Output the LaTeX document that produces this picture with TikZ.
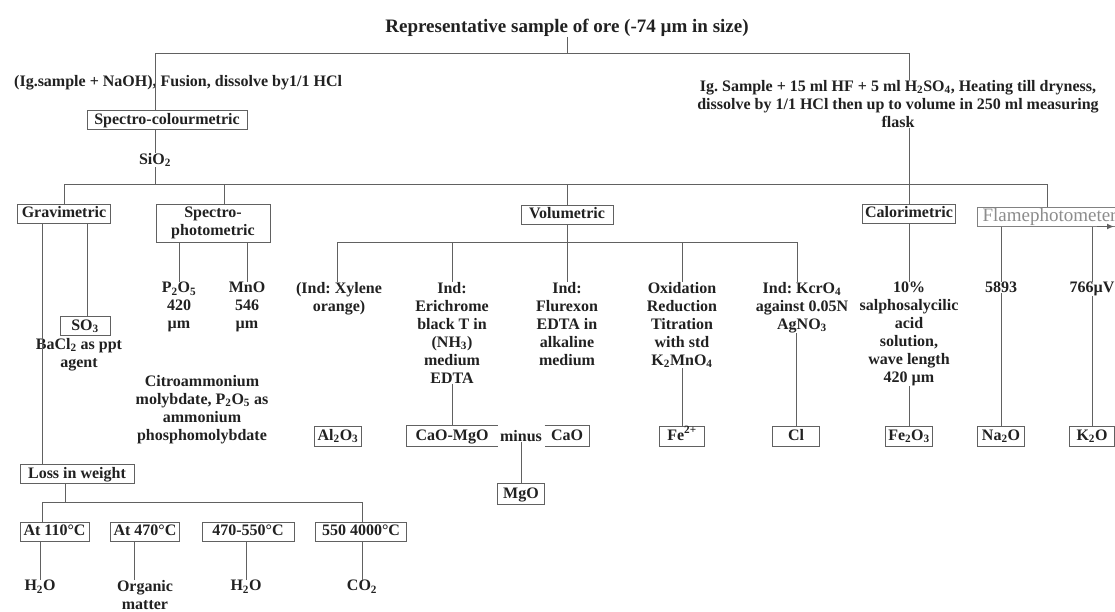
\documentclass[tikz,border=0pt]{standalone}
\usepackage{fontspec}
\setmainfont{Liberation Serif}
\usetikzlibrary{arrows.meta}
\definecolor{ink}{gray}{0.13}
\definecolor{linec}{gray}{0.38}
\frenchspacing
\tikzset{
  conn/.style={draw=linec,line width=1pt},
  txt/.style={font=\bfseries\fontsize{16}{18}\selectfont, text=ink, align=center, inner sep=0pt},
  bx/.style={txt, draw=linec, line width=1pt, inner xsep=3pt, inner ysep=0pt, minimum height=19pt, text height=11.5pt, text depth=3.5pt},
}
\begin{document}
\begin{tikzpicture}[x=1pt,y=-1pt]
\useasboundingbox (0,0) rectangle (1115,611);
\fill[white] (0,0) rectangle (1115,611);
\clip (0,0) rectangle (1115,611);

% ---------- top part
\node[txt, font=\bfseries\fontsize{19}{21}\selectfont] (title) at (567,28) {Representative sample of ore (-74 µm in size)};
\node[txt, anchor=west] (ltext) at (14,83) {(Ig.sample + NaOH), Fusion, dissolve by1/1 HCl};
\node[bx, minimum width=160pt] (scol) at (167,120) {Spectro-colourmetric};
\node[txt] (sio) at (155,160) {SiO\textsubscript{2}};
\node[txt, anchor=north] (rtext) at (898,80) {Ig. Sample + 15 ml HF + 5 ml H\textsubscript{2}SO\textsubscript{4}, Heating till dryness,\\dissolve by 1/1 HCl then up to volume in 250 ml measuring\\flask};

\coordinate (tl) at (155,53);
\coordinate (tr) at (909,53);
\coordinate (busL) at (64,184);
\coordinate (busR) at (1047,184);

% ---------- second row
\node[bx, minimum width=93pt] (grav) at (64,213.5) {Gravimetric};
\node[txt, draw=linec, line width=1pt, minimum width=114pt, minimum height=38pt] (sph) at (213,223) {Spectro-\\photometric};
\node[bx, minimum width=92pt] (vol) at (567,214.5) {Volumetric};
\node[bx, minimum width=92pt] (cal) at (909,213.5) {Calorimetric};
\node[draw=linec!80, line width=1pt, anchor=west, font=\fontsize{19}{20}\selectfont, text=black!45,
      text width=150pt, align=left, minimum height=19pt, inner xsep=5pt, inner ysep=0pt,
      text height=13pt, text depth=4pt] (flame) at (977,216.5) {Flamephotometer};
\coordinate (fa1) at (1097,226.5);
\coordinate (fa2) at (1114,226.5);

% ---------- gravimetric branch
\node[bx, minimum width=50pt] (so3) at (85,326) {SO\textsubscript{3}};
\node[txt, anchor=north] (bacl) at (79,338) {BaCl\textsubscript{2} as ppt\\agent};

% ---------- spectro-photometric branch
\node[txt, anchor=north] (p2o5) at (179,282) {P\textsubscript{2}O\textsubscript{5}\\420\\µm};
\node[txt, anchor=north] (mno) at (247,282) {MnO\\546\\µm};
\node[txt, anchor=north] (citro) at (202,375) {Citroammonium\\molybdate, P\textsubscript{2}O\textsubscript{5} as\\ammonium\\phosphomolybdate};

% ---------- volumetric branch
\coordinate (vbL) at (337,242);
\coordinate (vbR) at (797,242);
\node[txt, anchor=north] (xyl) at (339,282) {(Ind: Xylene\\orange)};
\node[txt, anchor=north] (eri) at (452,282) {Ind:\\Erichrome\\black T in\\(NH\textsubscript{3})\\medium\\EDTA};
\node[txt, anchor=north] (flu) at (567,282) {Ind:\\Flurexon\\EDTA in\\alkaline\\medium};
\node[txt, anchor=north] (oxi) at (682,282) {Oxidation\\Reduction\\Titration\\with std\\K\textsubscript{2}MnO\textsubscript{4}};
\node[txt, anchor=north] (kcr) at (802,282) {Ind: KcrO\textsubscript{4}\\against 0.05N\\AgNO\textsubscript{3}};

% ---------- calorimetric / flame branch
\node[txt, anchor=north] (calt) at (909,282) {10\%\\salphosalycilic\\acid\\solution,\\wave length\\420 µm};
\node[txt, anchor=north] (w1) at (1001,282) {5893};
\node[txt, anchor=north] (w2) at (1092,282) {766µV};

% ---------- result row
\node[bx, minimum width=45pt, minimum height=20pt] (al) at (338,436) {Al\textsubscript{2}O\textsubscript{3}};
\node[bx, draw=none, minimum width=90pt, minimum height=20pt] (cm) at (452,436) {CaO-MgO};
\node[txt] (minus) at (521,436) {minus};
\node[bx, draw=none, minimum width=44pt, minimum height=20pt] (cao) at (567,436) {CaO};
\node[bx, minimum width=45pt, minimum height=20pt] (fe) at (682,436) {Fe\textsuperscript{2+}};
\node[bx, minimum width=47pt, minimum height=20pt] (cl) at (796,436) {Cl};
\node[bx, minimum width=47pt, minimum height=20pt] (fe2o3) at (909,436) {Fe\textsubscript{2}O\textsubscript{3}};
\node[bx, minimum width=47pt, minimum height=20pt] (na) at (1001,436) {Na\textsubscript{2}O};
\node[bx, minimum width=45pt, minimum height=20pt] (k) at (1092,436) {K\textsubscript{2}O};
\node[bx, minimum width=47pt, minimum height=21pt] (mgo) at (521,494) {MgO};

% ---------- loss in weight
\node[bx, minimum width=114pt] (loss) at (77,474) {Loss in weight};
\coordinate (lbL) at (42,502);
\coordinate (lbR) at (362,502);
\node[bx, minimum width=69pt] (t1) at (54.5,531.5) {At 110°C};
\node[bx, minimum width=68pt] (t2) at (145,531.5) {At 470°C};
\node[bx, minimum width=92pt] (t3) at (248,531.5) {470-550°C};
\node[bx, minimum width=91pt] (t4) at (361,531.5) {550 4000°C};
\node[txt, anchor=north] (h1) at (40,580) {H\textsubscript{2}O};
\node[txt, anchor=north] (org) at (145,580) {Organic\\matter};
\node[txt, anchor=north] (h2) at (246,580) {H\textsubscript{2}O};
\node[txt, anchor=north] (co2) at (362,580) {CO\textsubscript{2}};

% ---------- connectors
\draw[conn] (title.south) -- (title.south |- tl);
\draw[conn] (tl) -- (tr);
\draw[conn] (tl) -- (tl |- scol.north);
\draw[conn] (tl |- scol.south) -- (tl |- sio.north);
\draw[conn] (sio.south) -- (sio.south |- busL);
\draw[conn] (tr) -- (tr |- rtext.north);
\draw[conn] (tr |- rtext.south) -- (tr |- busL);
\draw[conn] (busL) -- (busR);
\draw[conn] (busL) -- (grav.north);
\coordinate (jsph) at (224,184);
\draw[conn] (jsph) -- (jsph |- sph.north);
\draw[conn] (busL -| vol.north) -- (vol.north);
\draw[conn] (busL -| cal.north) -- (cal.north);
\draw[conn] (busR) -- (busR |- flame.north);
\draw[conn, line width=1.3pt, -{Latex[length=7pt,width=6pt]}] (fa1) -- (fa2);

% gravimetric
\draw[conn] ([xshift=-22pt]grav.south) -- ([xshift=-22pt]grav.south |- loss.north);
\draw[conn] ([xshift=23pt]grav.south) -- ([xshift=23pt]grav.south |- so3.north);

% spectro-photometric
\draw[conn] (sph.south -| p2o5.north) -- (p2o5.north);
\draw[conn] (sph.south -| mno.north) -- (mno.north);

% volumetric
\draw[conn] (vol.south) -- (vol.south |- vbL);
\draw[conn] (vbL) -- (vbR);
\draw[conn] (vbL) -- (vbL |- xyl.north);
\draw[conn] (vbL -| eri.north) -- (eri.north);
\draw[conn] (vbL -| flu.north) -- (flu.north);
\draw[conn] (vbL -| oxi.north) -- (oxi.north);
\draw[conn] (vbR) -- (vbR |- kcr.north);
\draw[conn] (eri.south) -- (cm.north);
\draw[conn] (oxi.south) -- (fe.north);
\draw[conn] (cl.north |- kcr.south) -- (cl.north);
\draw[conn] (minus.south) -- (mgo.north);
% open boxes CaO-MgO minus CaO
\draw[conn] (cm.north east) -- (cm.north west) -- (cm.south west) -- (cm.south east);
\draw[conn] (cao.north west) -- (cao.north east) -- (cao.south east) -- (cao.south west);

% calorimetric and flame
\draw[conn] (cal.south) -- (calt.north);
\draw[conn] (calt.south) -- (fe2o3.north);
\draw[conn] (flame.south -| w1.north) -- (w1.north);
\draw[conn] (w1.south) -- (na.north);
\draw[conn] (flame.south -| w2.north) -- (w2.north);
\draw[conn] (w2.south) -- (k.north);

% loss in weight
\draw[conn] ([xshift=-12pt]loss.south) -- ([xshift=-12pt]loss.south |- lbL);
\draw[conn] (lbL) -- (lbR);
\draw[conn] (lbL) -- (lbL |- t1.north);
\draw[conn] (lbR) -- (lbR |- t4.north);
\draw[conn] (t1.south -| h1.north) -- (h1.north);
\draw[conn] ([xshift=-11pt]t2.south) -- ([xshift=-11pt]t2.south |- org.north);
\draw[conn] (t3.south -| h2.north) -- (h2.north);
\draw[conn] (t4.south -| co2.north) -- (co2.north);
\end{tikzpicture}
\end{document}
